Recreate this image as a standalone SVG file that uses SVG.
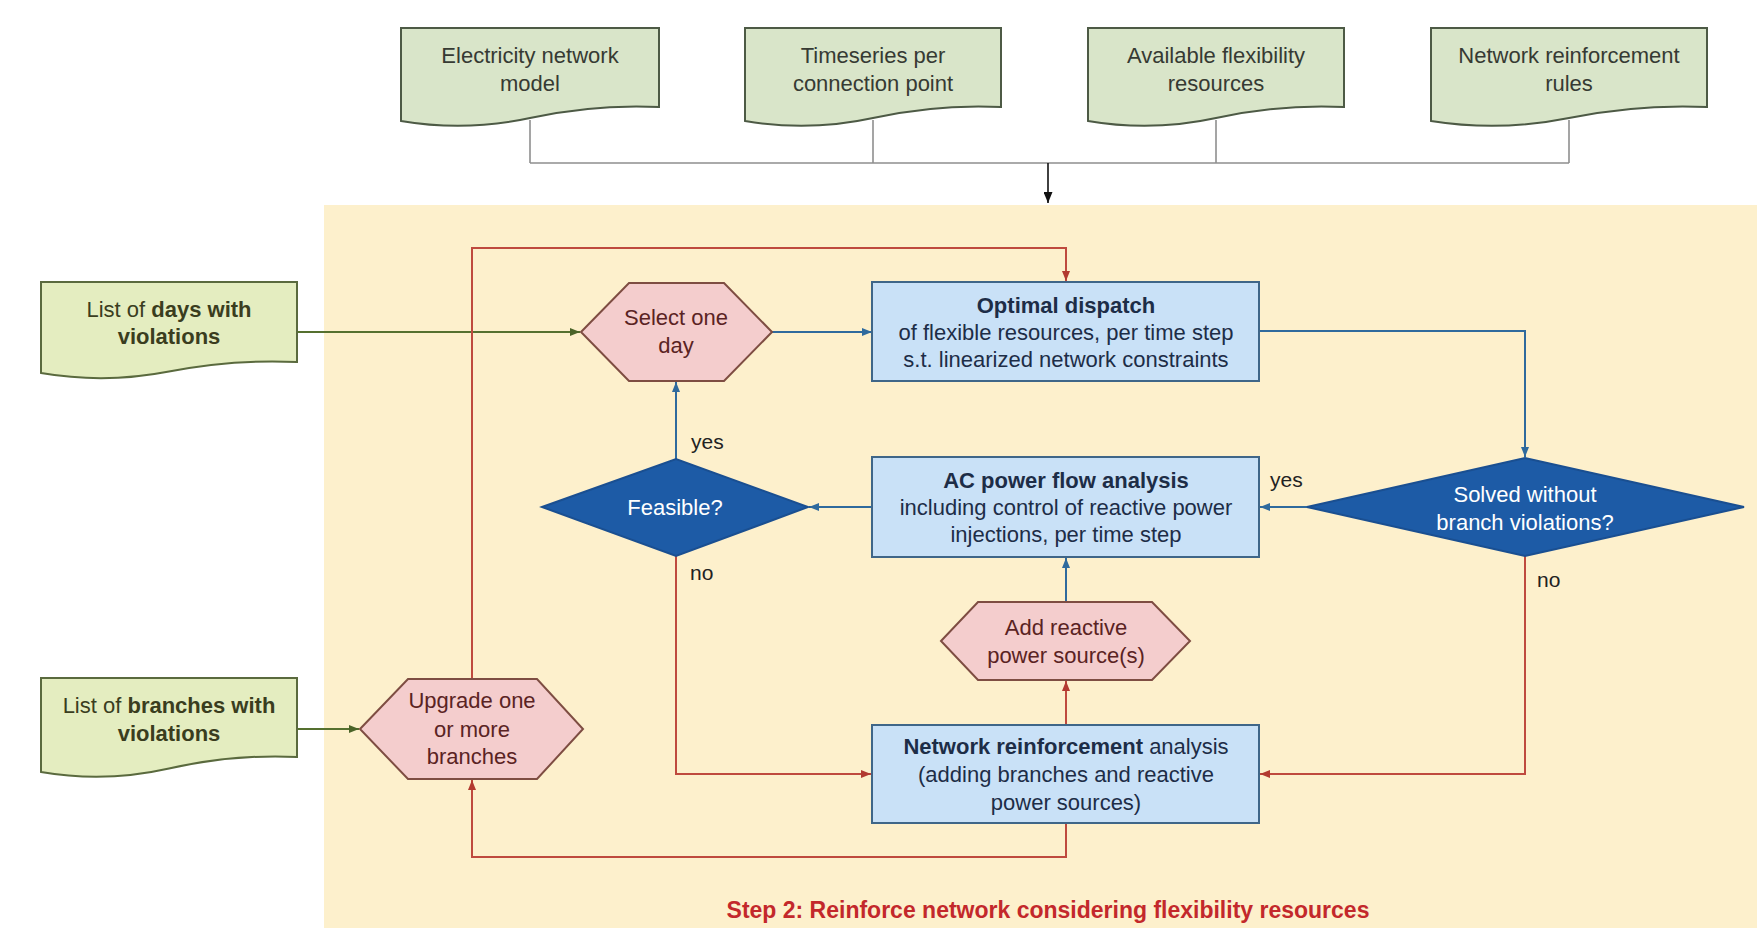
<svg xmlns="http://www.w3.org/2000/svg" width="1757" height="928" viewBox="0 0 1757 928">
<defs>
<style>
text{font-family:"Liberation Sans",Arial,sans-serif;font-size:22px;text-anchor:middle}
.doc{fill:#d9e5c9;stroke:#4d5a45;stroke-width:2}
.doc2{fill:#e4edc0;stroke:#5a6a3e;stroke-width:2}
.box{fill:#c9e1f7;stroke:#3f6688;stroke-width:2}
.hex{fill:#f4cdcd;stroke:#7e4d42;stroke-width:2}
.dia{fill:#1d5ba6;stroke:#1a4f91;stroke-width:2}
.t-doc{fill:#363a33}
.t-doc2{fill:#3a3d1e}
.t-box{fill:#1d2d47}
.t-hex{fill:#5a2323}
.t-dia{fill:#ffffff}
.lbl{fill:#222;text-anchor:start;font-size:21px}
.b{font-weight:bold}
.c-gray{fill:none;stroke:#8f8f8f;stroke-width:1.6}
.c-blue{fill:none;stroke:#2f6a9d;stroke-width:2}
.c-red{fill:none;stroke:#bf4a3e;stroke-width:2}
.c-green{fill:none;stroke:#55702f;stroke-width:2}
.c-black{fill:none;stroke:#111;stroke-width:1.6}
</style>
<marker id="aBlue" markerUnits="userSpaceOnUse" markerWidth="10" markerHeight="8" refX="10" refY="4" orient="auto"><path d="M0,0 L10,4 L0,8 z" fill="#2f6a9d"/></marker>
<marker id="aRed" markerUnits="userSpaceOnUse" markerWidth="10" markerHeight="8" refX="10" refY="4" orient="auto"><path d="M0,0 L10,4 L0,8 z" fill="#b23a30"/></marker>
<marker id="aGreen" markerUnits="userSpaceOnUse" markerWidth="10" markerHeight="8" refX="10" refY="4" orient="auto"><path d="M0,0 L10,4 L0,8 z" fill="#4a6428"/></marker>
<marker id="aBlack" markerUnits="userSpaceOnUse" markerWidth="11" markerHeight="9" refX="11" refY="4.5" orient="auto"><path d="M0,0 L11,4.5 L0,9 z" fill="#111"/></marker>
</defs>

<rect x="0" y="0" width="1757" height="928" fill="#ffffff"/>
<rect id="step2-area" x="324" y="205" width="1433" height="723" fill="#fdf0cc"/>

<g id="connectors">
<path class="c-gray" d="M530,120 V163 M873,120 V163 M1216,120 V163 M1569,120 V163 M530,163 H1569"/>
<path class="c-black" d="M1048,163 V203" marker-end="url(#aBlack)"/>
<path class="c-green" d="M297,332 H580" marker-end="url(#aGreen)"/>
<path class="c-green" d="M297,729 H359" marker-end="url(#aGreen)"/>
<path class="c-blue" d="M772,332 H872" marker-end="url(#aBlue)"/>
<path class="c-blue" d="M1259,331 H1525 V457" marker-end="url(#aBlue)"/>
<path class="c-blue" d="M1307,507 H1260" marker-end="url(#aBlue)"/>
<path class="c-blue" d="M872,507 H809" marker-end="url(#aBlue)"/>
<path class="c-blue" d="M676,459 V382" marker-end="url(#aBlue)"/>
<path class="c-blue" d="M1066,602 V558" marker-end="url(#aBlue)"/>
<path class="c-red" d="M676,556 V774 H871" marker-end="url(#aRed)"/>
<path class="c-red" d="M1525,556 V774 H1260" marker-end="url(#aRed)"/>
<path class="c-red" d="M1066,725 V681" marker-end="url(#aRed)"/>
<path class="c-red" d="M1066,823 V857 H472 V780" marker-end="url(#aRed)"/>
<path class="c-red" d="M472,679 V248 H1066 V281" marker-end="url(#aRed)"/>
<text class="lbl" x="691" y="449">yes</text>
<text class="lbl" x="1270" y="487">yes</text>
<text class="lbl" x="690" y="580">no</text>
<text class="lbl" x="1537" y="587">no</text>
</g>

<g id="doc-electricity">
<path class="doc" d="M401,28 H659 V107 Q594.5,104 530,118 T401,121 Z"/>
<text class="t-doc" x="530" y="63">Electricity network</text>
<text class="t-doc" x="530" y="91">model</text>
</g>
<g id="doc-timeseries">
<path class="doc" d="M745,28 H1001 V107 Q937,104 873,118 T745,121 Z"/>
<text class="t-doc" x="873" y="63">Timeseries per</text>
<text class="t-doc" x="873" y="91">connection point</text>
</g>
<g id="doc-flexibility">
<path class="doc" d="M1088,28 H1344 V107 Q1280,104 1216,118 T1088,121 Z"/>
<text class="t-doc" x="1216" y="63">Available flexibility</text>
<text class="t-doc" x="1216" y="91">resources</text>
</g>
<g id="doc-rules">
<path class="doc" d="M1431,28 H1707 V107 Q1638,104 1569,118 T1431,121 Z"/>
<text class="t-doc" x="1569" y="63">Network reinforcement</text>
<text class="t-doc" x="1569" y="91">rules</text>
</g>

<g id="doc-days">
<path class="doc2" d="M41,282 H297 V362 Q233,359 169,371.5 T41,373 Z"/>
<text class="t-doc2" x="169" y="317">List of <tspan class="b">days with</tspan></text>
<text class="t-doc2 b" x="169" y="344">violations</text>
</g>
<g id="doc-branches">
<path class="doc2" d="M41,678 H297 V757 Q233,754 169,768.5 T41,772 Z"/>
<text class="t-doc2" x="169" y="713">List of <tspan class="b">branches with</tspan></text>
<text class="t-doc2 b" x="169" y="741">violations</text>
</g>

<g id="select-day">
<polygon class="hex" points="581,332 629,283 724,283 772,332 724,381 629,381"/>
<text class="t-hex" x="676" y="325">Select one</text>
<text class="t-hex" x="676" y="353">day</text>
</g>

<g id="optimal-dispatch">
<rect class="box" x="872" y="282" width="387" height="99"/>
<text class="t-box b" x="1066" y="313">Optimal dispatch</text>
<text class="t-box" x="1066" y="340">of flexible resources, per time step</text>
<text class="t-box" x="1066" y="367">s.t. linearized network constraints</text>
</g>

<g id="solved-decision">
<polygon class="dia" points="1307,507 1525,458 1744,507 1525,556"/>
<text class="t-dia" x="1525" y="502">Solved without</text>
<text class="t-dia" x="1525" y="530">branch violations?</text>
</g>

<g id="ac-power-flow">
<rect class="box" x="872" y="457" width="387" height="100"/>
<text class="t-box b" x="1066" y="488">AC power flow analysis</text>
<text class="t-box" x="1066" y="515">including control of reactive power</text>
<text class="t-box" x="1066" y="542">injections, per time step</text>
</g>

<g id="feasible-decision">
<polygon class="dia" points="542,507 676,459 808,507 676,556"/>
<text class="t-dia" x="675" y="515">Feasible?</text>
</g>

<g id="add-reactive">
<polygon class="hex" points="941,641 978,602 1152,602 1190,641 1152,680 978,680"/>
<text class="t-hex" x="1066" y="635">Add reactive</text>
<text class="t-hex" x="1066" y="663">power source(s)</text>
</g>

<g id="network-reinforcement">
<rect class="box" x="872" y="725" width="387" height="98"/>
<text class="t-box" x="1066" y="754"><tspan class="b">Network reinforcement</tspan> analysis</text>
<text class="t-box" x="1066" y="782">(adding branches and reactive</text>
<text class="t-box" x="1066" y="810">power sources)</text>
</g>

<g id="upgrade-branches">
<polygon class="hex" points="360,729 408,679 537,679 583,729 537,779 408,779"/>
<text class="t-hex" x="472" y="708">Upgrade one</text>
<text class="t-hex" x="472" y="737">or more</text>
<text class="t-hex" x="472" y="764">branches</text>
</g>

<g id="title">
<text x="1048" y="918" class="b" style="fill:#c3282b;font-size:23px">Step 2: Reinforce network considering flexibility resources</text>
</g>
</svg>
